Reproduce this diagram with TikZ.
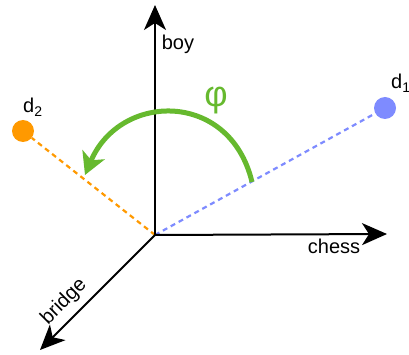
\documentclass[tikz,border=0pt]{standalone}
\usepackage{fontspec}
\setmainfont{Liberation Sans}
\usetikzlibrary{arrows.meta}
\definecolor{orangec}{RGB}{255,153,0}
\definecolor{bluec}{RGB}{126,139,255}
\definecolor{greenc}{RGB}{102,185,46}
\newcommand{\mysub}[1]{\raisebox{-4pt}{\fontsize{14pt}{14pt}\selectfont #1}}
\begin{document}
\begin{tikzpicture}[x=1pt,y=-1pt,
  axis/.style={line width=2pt,-{Stealth[length=25pt,width=22pt,inset=7pt]}},
  dashline/.style={line width=2.2pt,dash pattern=on 5pt off 4pt},
  lbl/.style={inner sep=0pt,font=\fontsize{20pt}{22pt}\selectfont},
  dot/.style={circle,inner sep=0pt,minimum size=22pt}]
\useasboundingbox (0,0) rectangle (409,355);
\coordinate (O) at (155,235);
\coordinate (ytip) at (155,5);
\coordinate (xtip) at (387,234);
\coordinate (ztip) at (40,350);
\node[dot,fill=orangec] (d2) at (23,131) {};
\node[dot,fill=bluec] (d1) at (385,108) {};
\draw[dashline,orangec] (O) -- (d2);
\draw[dashline,bluec] (O) -- (d1);
\draw[axis] (O) -- (ytip);
\draw[axis] (O) -- (xtip);
\draw[axis] (O) -- (ztip);
\coordinate (arcS) at (252,182);
\coordinate (arcE) at (85,175);
\draw[greenc,line width=5pt,-{Stealth[length=22pt,width=24pt,inset=6pt]}]
  (arcS) .. controls (230,90) and (120,92) .. (arcE);
\node[lbl] (boy) at (178,44) {boy};
\node[lbl] (chess) at (334,246) {chess};
\node[lbl,rotate=45] (bridge) at (64,302) {bridge};
\node[lbl,anchor=base west] (l2) at (23,113) {d\mysub{2}};
\node[lbl,anchor=base west] (l1) at (391,89) {d\mysub{1}};
\node[inner sep=0pt,text=greenc,font=\fontsize{36pt}{38pt}\selectfont] (phi) at (216,101) {φ};
\end{tikzpicture}
\end{document}
